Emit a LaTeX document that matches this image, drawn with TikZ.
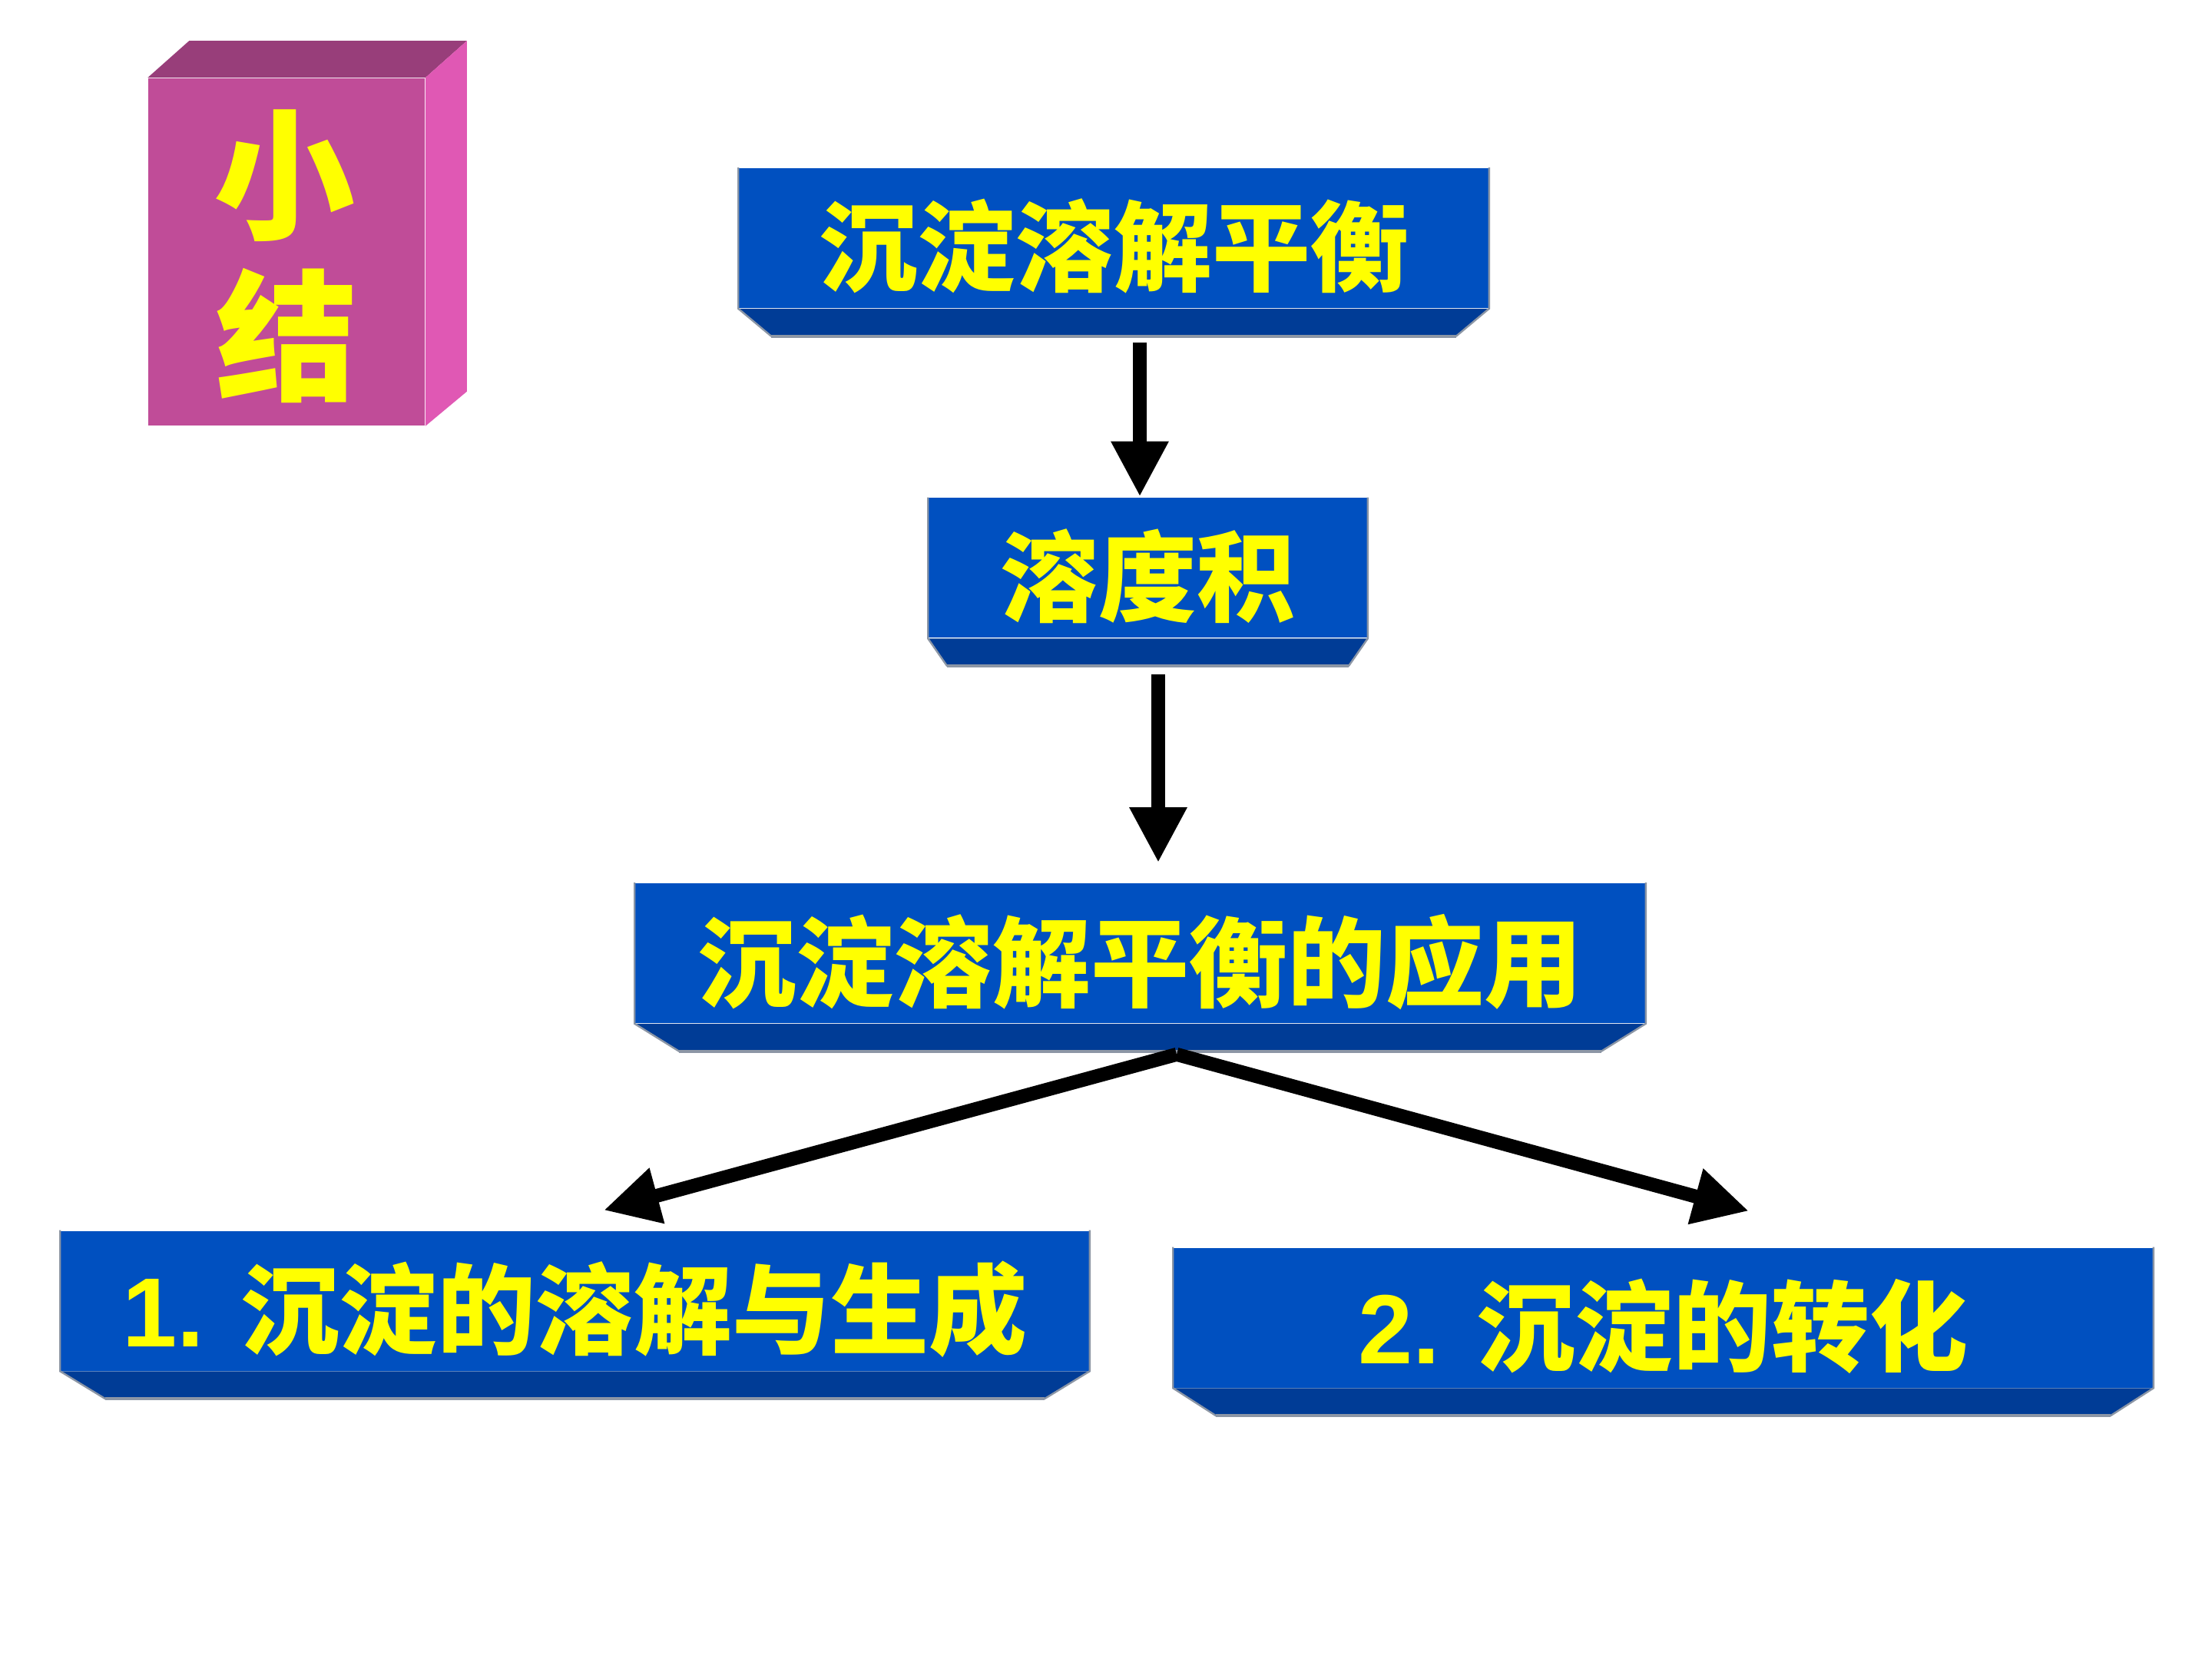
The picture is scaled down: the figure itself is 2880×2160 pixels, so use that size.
\documentclass[tikz,border=0pt]{standalone}
\usepackage{fontspec}
\newfontfamily\cjk{Noto Sans CJK SC}
\newfontfamily\lib{Liberation Sans}
\usetikzlibrary{arrows.meta,calc}
\definecolor{frontblue}{RGB}{0,80,192}
\definecolor{bevelblue}{RGB}{0,60,150}
\definecolor{edgegray}{RGB}{140,150,165}
\definecolor{pinkfront}{RGB}{192,76,152}
\definecolor{pinktop}{RGB}{152,62,122}
\definecolor{pinkside}{RGB}{224,88,180}
\definecolor{ylw}{RGB}{255,255,0}
\tikzset{
  box/.style={fill=frontblue, inner sep=0pt, text=ylw, minimum height=182*0.25pt,
    text height=30pt, text depth=0pt,
    font=\cjk\bfseries\fontsize{32}{38}\selectfont},
  conn/.style={line width=4.5pt, -{Triangle[length=18pt,width=17.5pt]}},
  cubetxt/.style={text=ylw, inner sep=0pt, anchor=base, font=\cjk\bfseries\fontsize{46}{50}\selectfont}
}
\newcommand\mybevel[3]{%
  \fill[bevelblue] (#1.south west) -- (#1.south east) -- ($(#1.south east)+(-#2,#3)$) -- ($(#1.south west)+(#2,#3)$) -- cycle;
  \draw[edgegray, line width=1pt] ($(#1.south west)+(#2,#3)$) -- ($(#1.south east)+(-#2,#3)$);
  \draw[edgegray, line width=0.6pt] (#1.north west) -- (#1.south west) -- ($(#1.south west)+(#2,#3)$);
  \draw[edgegray, line width=0.6pt] (#1.north east) -- (#1.south east) -- ($(#1.south east)+(-#2,#3)$);
}
\begin{document}
\begin{tikzpicture}[x=0.25pt,y=-0.25pt]
\fill[white] (0,0) rectangle (2880,2160);
\useasboundingbox (0,0) rectangle (2880,2160);

% pink cube
\node[fill=pinkfront, inner sep=0pt, minimum width=360*0.25pt, minimum height=452*0.25pt] (cube) at (373,328) {};
\fill[pinktop] (cube.north west) -- ($(cube.north west)+(54,-48)$) -- ($(cube.north east)+(54,-48)$) -- (cube.north east) -- cycle;
\fill[pinkside] (cube.north east) -- ($(cube.north east)+(54,-48)$) -- ($(cube.south east)+(54,-45)$) -- (cube.south east) -- cycle;
\node[cubetxt] (t1) at (370,298) {小};
\node[cubetxt] (t2) at (373,508) {结};

% boxes
\node[box, minimum width=976*0.25pt] (b1) at (1450,310) {沉淀溶解平衡};
\mybevel{b1}{43}{36}
\node[box, minimum width=571*0.25pt] (b2) at (1494.5,739.5) {溶度积};
\mybevel{b2}{25}{36}
\node[box, minimum width=1315*0.25pt] (b3) at (1484.5,1241) {沉淀溶解平衡的应用};
\mybevel{b3}{58}{36}
\node[box, minimum width=1339*0.25pt] (b4) at (748.5,1693.5) {{\lib\bfseries 1. }沉淀的溶解与生成};
\mybevel{b4}{59}{36}
\node[box, minimum width=1275*0.25pt] (b5) at (2165.5,1715.5) {{\lib\bfseries 2. }沉淀的转化};
\mybevel{b5}{56}{36}

% connectors
\draw[conn] ($(b1.south)+(34,44)$) -- ($(b2.north)+(-10.5,-1)$);
\draw[conn] ($(b2.south)+(13.5,47)$) -- ($(b3.north)+(23.5,-26)$);
\coordinate (apex) at ($(b3.south)+(47.5,40)$);
\draw[conn] (apex) -- ($(b4.north)+(37.5,-26)$);
\draw[conn] (apex) -- ($(b5.north)+(111.5,-47)$);
\end{tikzpicture}
\end{document}
